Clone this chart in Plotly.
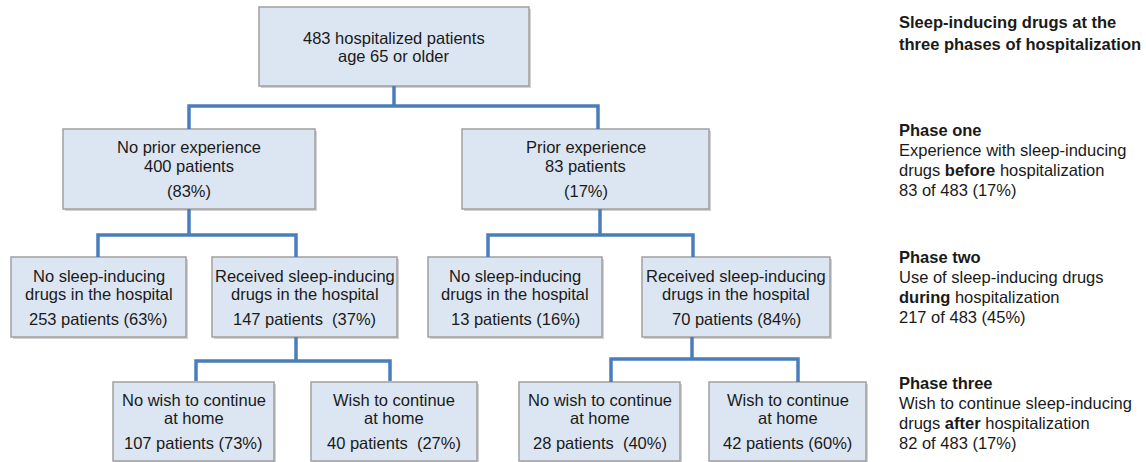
import plotly.graph_objects as go

# ---------------- data ----------------
total_patients = 483
phase1_labels = ["No prior experience", "Prior experience"]
phase1_counts = [400, 83]
phase1_pcts = [83, 17]

phase2_labels = ["No sleep-inducing<br>drugs in the hospital",
                 "Received sleep-inducing<br>drugs in the hospital",
                 "No sleep-inducing<br>drugs in the hospital",
                 "Received sleep-inducing<br>drugs in the hospital"]
phase2_counts = [253, 147, 13, 70]
phase2_pcts = [63, 37, 16, 84]

phase3_labels = ["No wish to continue<br>at home", "Wish to continue<br>at home",
                 "No wish to continue<br>at home", "Wish to continue<br>at home"]
phase3_counts = [107, 40, 28, 42]
phase3_pcts = [73, 27, 40, 60]

side_title = "Sleep-inducing drugs at the<br>three phases of hospitalization"
side_phase_names = ["Phase one", "Phase two", "Phase three"]
side_phase_desc = [
    ["Experience with sleep-inducing", "drugs <b>before</b> hospitalization"],
    ["Use of sleep-inducing drugs", "<b>during</b> hospitalization"],
    ["Wish to continue sleep-inducing", "drugs <b>after</b> hospitalization"],
]
side_phase_counts = [83, 217, 82]
side_phase_pcts = [17, 45, 17]

# ---------------- layout geometry (pixels) ----------------
W, H = 1146, 462
FONT = "Liberation Sans, Arial, sans-serif"
FS = 16.5
TXT = "#1a1a1a"
FILL = "#dce6f2"
EDGE = "#a0a0a0"
LINE = "#4a7ebb"

top_box = (259, 529, 7, 86)
p1_boxes = [(63, 315, 129, 209), (462, 709, 129, 209)]
p2_boxes = [(11, 186, 257, 337), (212, 397, 257, 337),
            (428, 602, 257, 337), (642, 830, 257, 337)]
p3_boxes = [(113, 274, 382, 461), (311, 477, 382, 461),
            (519, 680, 382, 461), (709, 866, 382, 461)]

connectors = [
    # (stem x, stem top, bar y, left x, right x, drop bottom)
    (394, 86, 106, 189, 598, 129),
    (189, 209, 235, 98, 296, 257),
    (600, 209, 235, 488, 693, 257),
    (296, 337, 361, 196, 390, 381),
    (692, 337, 359, 611, 798, 382),
]

shapes = []
annotations = []


def add_box(b):
    x0, x1, y0, y1 = b
    shapes.append(dict(type="rect", xref="x", yref="y", x0=x0 + 2, x1=x1 + 2,
                       y0=y0 + 2, y1=y1 + 2, fillcolor="rgba(0,0,0,0.18)",
                       line=dict(width=0), layer="below"))
    shapes.append(dict(type="rect", xref="x", yref="y", x0=x0, x1=x1, y0=y0, y1=y1,
                       fillcolor=FILL, line=dict(color=EDGE, width=1.5), layer="below"))


def add_text(x, y, text, size=FS, anchor="center"):
    annotations.append(dict(x=x, y=y, xref="x", yref="y", text=text, showarrow=False,
                            xanchor=anchor, yanchor="middle",
                            align=anchor if anchor != "center" else "center",
                            font=dict(family=FONT, size=size, color=TXT)))


# top box
add_box(top_box)
cx = (top_box[0] + top_box[1]) / 2
add_text(cx, 38, f"{total_patients} hospitalized patients")
add_text(cx, 56, "age 65 or older")

# phase 1
for b, lab, n, p in zip(p1_boxes, phase1_labels, phase1_counts, phase1_pcts):
    add_box(b)
    cx = (b[0] + b[1]) / 2
    add_text(cx, 147, lab)
    add_text(cx, 166, f"{n} patients")
    add_text(cx, 191, f"({p}%)")

# phase 2
for i, (b, lab, n, p) in enumerate(zip(p2_boxes, phase2_labels, phase2_counts, phase2_pcts)):
    add_box(b)
    cx = (b[0] + b[1]) / 2
    l1, l2 = lab.split("<br>")
    add_text(cx, 276, l1)
    add_text(cx, 294, l2)
    sep = "&nbsp; " if i == 1 else " "
    add_text(cx, 319, f"{n} patients{sep}({p}%)")

# phase 3
for i, (b, lab, n, p) in enumerate(zip(p3_boxes, phase3_labels, phase3_counts, phase3_pcts)):
    add_box(b)
    cx = (b[0] + b[1]) / 2
    l1, l2 = lab.split("<br>")
    add_text(cx, 400, l1)
    add_text(cx, 418, l2)
    sep = "&nbsp; " if i in (1, 2) else " "
    add_text(cx, 443, f"{n} patients{sep}({p}%)")

# connectors
for sx, sy, by, lx, rx, dy in connectors:
    path = f"M {sx},{sy} L {sx},{by} M {lx},{dy} L {lx},{by} L {rx},{by} L {rx},{dy}"
    shapes.append(dict(type="path", xref="x", yref="y", path=path,
                       line=dict(color=LINE, width=3.5)))

# side column
SX = 897
t1, t2 = side_title.split("<br>")
add_text(SX, 22, f"<b>{t1}</b>", anchor="left")
add_text(SX, 44, f"<b>{t2}</b>", anchor="left")
side_y = [130, 257, 383]
for y0, name, desc, n, p in zip(side_y, side_phase_names, side_phase_desc,
                                side_phase_counts, side_phase_pcts):
    add_text(SX, y0, f"<b>{name}</b>", anchor="left")
    add_text(SX, y0 + 20, desc[0], anchor="left")
    add_text(SX, y0 + 40, desc[1], anchor="left")
    add_text(SX, y0 + 60, f"{n} of {total_patients} ({p}%)", anchor="left")

fig = go.Figure()
fig.add_trace(go.Scatter(x=[0, W], y=[0, H], mode="markers",
                         marker=dict(opacity=0), hoverinfo="skip", showlegend=False))
fig.update_layout(
    width=W, height=H, margin=dict(l=0, r=0, t=0, b=0),
    paper_bgcolor="white", plot_bgcolor="white",
    xaxis=dict(range=[0, W], visible=False, fixedrange=True),
    yaxis=dict(range=[H, 0], visible=False, fixedrange=True),
    shapes=shapes, annotations=annotations, showlegend=False,
)
fig.write_html("out.html", config={"displayModeBar": False},
               post_script="document.body.style.margin='0';document.body.style.overflow='hidden';")
